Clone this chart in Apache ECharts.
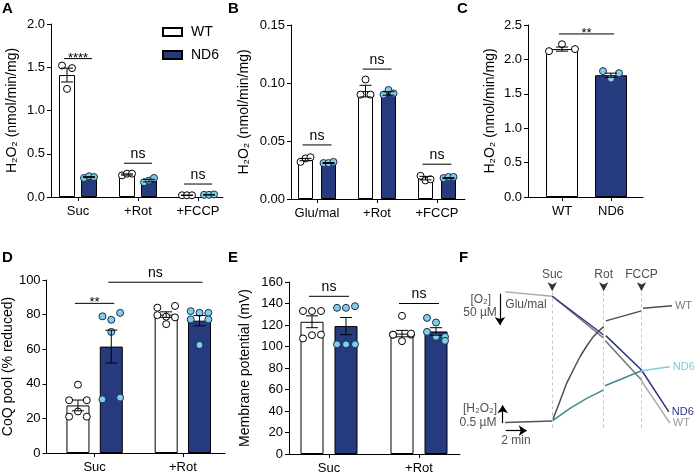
<!DOCTYPE html>
<html><head><meta charset="utf-8">
<script src="https://cdn.jsdelivr.net/npm/echarts@6/dist/echarts.min.js"></script>
<style>html,body{margin:0;padding:0;background:#fff}#c{width:696px;height:475px}</style>
</head><body><div id="c"></div>
<script>
// ---------------- DATA ----------------
// Panel A
const catsA = ['Suc', '+Rot', '+FCCP'];
const wtMeanA = [1.41, 0.26, 0.02];
const wtSemA = [0.08, 0.007, 0.002];
const ndMeanA = [0.23, 0.19, 0.025];
const ndSemA = [0.006, 0.015, 0.002];
const wtPtsA = [[1.52, 1.25, 1.49], [0.25, 0.27, 0.27], [0.02, 0.02, 0.02]];
const ndPtsA = [[0.22, 0.24, 0.23], [0.17, 0.19, 0.22], [0.025, 0.025, 0.03]];
const sigTextA = ['****', 'ns', 'ns'];
const sigYA = [1.6, 0.39, 0.15];
const sigPairsA = [[0, 'WT', 0, 'ND6'], [1, 'WT', 1, 'ND6'], [2, 'WT', 2, 'ND6']];
const yTicksA = [0, 2.0, 0.5];

// Panel B
const catsB = ['Glu/mal', '+Rot', '+FCCP'];
const wtMeanB = [0.034, 0.093, 0.018];
const wtSemB = [0.001, 0.005, 0.0015];
const ndMeanB = [0.031, 0.091, 0.018];
const ndSemB = [0.0004, 0.0015, 0.0004];
const wtPtsB = [[0.032, 0.035, 0.036], [0.090, 0.103, 0.090], [0.020, 0.016, 0.017]];
const ndPtsB = [[0.031, 0.031, 0.032], [0.090, 0.094, 0.091], [0.018, 0.019, 0.019]];
const sigTextB = ['ns', 'ns', 'ns'];
const sigYB = [0.0466, 0.112, 0.030];
const sigPairsB = [[0, 'WT', 0, 'ND6'], [1, 'WT', 1, 'ND6'], [2, 'WT', 2, 'ND6']];
const yTicksB = [0, 0.15, 0.05];

// Panel C
const catsC = ['WT', 'ND6'];
const wtMeanC = [2.15];
const wtSemC = [0.03];
const ndMeanC = [1.77];
const ndSemC = [0.03];
const wtPtsC = [[2.12, 2.22, 2.15]];
const ndPtsC = [[1.83, 1.72, 1.80]];
const sigTextC = ['**'];
const sigYC = [2.37];
const sigPairsC = [[0, 'WT', 0, 'ND6']];
const yTicksC = [0, 2.5, 0.5];

// Panel D
const catsD = ['Suc', '+Rot'];
const wtMeanD = [27.5, 80];
const wtSemD = [3.1, 1.6];
const ndMeanD = [61.5, 76.5];
const ndSemD = [9.5, 3.0];
const wtPtsD = [[30.5, 39.5, 30.5, 21, 24, 21], [79.7, 78.8, 85, 84, 74.5, 78.4]];
const ndPtsD = [[79, 70, 81, 31, 77, 32], [82, 81, 81, 77.2, 62.4, 77.2]];
const sigTextD = ['**', 'ns'];
const sigYD = [86.5, 98.7];
const sigPairsD = [[0, 'WT', 0, 'ND6'], [0, 'ND6', 1, 'ND6']];
const yTicksD = [0, 100, 20];

// Panel E
const catsE = ['Suc', '+Rot'];
const wtMeanE = [123, 112];
const wtSemE = [5.5, 3];
const ndMeanE = [119, 114];
const ndSemE = [8, 3.5];
const wtPtsE = [[133, 133, 133, 107.5, 110.5, 111], [111, 128.5, 111, 111, 105, 112]];
const ndPtsE = [[136, 136, 137.5, 102, 102, 102], [126.6, 122.3, 109, 113.6, 109, 105.3]];
const sigTextE = ['ns', 'ns'];
const sigYE = [146.7, 140];
const sigPairsE = [[0, 'WT', 0, 'ND6'], [1, 'WT', 1, 'ND6']];
const yTicksE = [0, 160, 20];

// Panel F (schematic traces; time in min, O2 in µM, H2O2 in µM)
const fEvents = ['Suc', 'Rot', 'FCCP'];
const fEventTimes = [4.5, 9.4, 13.0];
const o2Base = [[0, 245], [4.5, 238]];
const o2WT = [[4.5, 238], [9.4, 171], [9.47, '-'], [9.55, 167], [13.0, 104]];
const o2WTpost = [[13.0, 104], [13.1, 100], [15.7, 35]];
const o2ND6 = [[4.5, 238], [9.4, 176], [9.5, '-'], [9.6, 175], [13.0, 120], [15.6, 53]];
const h2Base = [[0, 0.63], [4.5, 0.67]];
const h2WT = [[4.5, 0.67], [4.92, 0.98], [5.4, 1.35], [5.87, 1.72], [6.5, 2.09], [7.14, 2.46], [7.78, 2.76], [8.41, 3.02], [9.05, 3.21], [9.4, 3.30], [9.5, '-'], [9.6, 3.46], [13.0, 3.74], [13.07, '-'], [13.15, 3.81], [15.9, 3.88]];
const h2ND6 = [[4.5, 0.67], [6.19, 1.02], [7.78, 1.30], [9.36, 1.53], [9.45, '-'], [9.52, 1.65], [13.0, 2.07]];
const h2ND6post = [[13.0, 2.07], [13.1, 2.12], [15.7, 2.18]];

// ---------------- STYLE / LAYOUT ----------------
const FONT = 'Liberation Sans, Arial, Helvetica, sans-serif';
const NAVY = '#263a7e';
const CYAN = '#80d0e0';
const grids = [], xAxes = [], yAxes = [], series = [];

function bracketRender(texts) {
  return function (params, api) {
    const y = api.value(2);
    const a = api.coord([api.value(0), y]);
    const b = api.coord([api.value(1), y]);
    const t = texts[params.dataIndex];
    const star = t.indexOf('*') >= 0;
    return {
      type: 'group', children: [
        { type: 'line', shape: { x1: a[0] - 3, y1: a[1], x2: b[0] + 3, y2: b[1] }, style: { stroke: '#000', lineWidth: 1 } },
        { type: 'text', x: (a[0] + b[0]) / 2, y: a[1] + (star ? 6 : -2),
          style: { text: t, fill: '#000', fontSize: star ? 13 : 14, fontFamily: FONT, align: 'center', verticalAlign: 'bottom' } }
      ]
    };
  };
}
function errRender(params, api) {
  const x = api.value(0), m = api.value(1), e = api.value(2);
  const t = api.coord([x, m + e]), b = api.coord([x, m - e]);
  const cap = 6;
  const st = { stroke: '#000', lineWidth: 1 };
  return {
    type: 'group', children: [
      { type: 'line', shape: { x1: t[0], y1: t[1], x2: b[0], y2: b[1] }, style: st },
      { type: 'line', shape: { x1: t[0] - cap, y1: t[1], x2: t[0] + cap, y2: t[1] }, style: st },
      { type: 'line', shape: { x1: b[0] - cap, y1: b[1], x2: b[0] + cap, y2: b[1] }, style: st }
    ]
  };
}

function addBarPanel(p) {
  const gi = grids.length;
  grids.push({ left: p.left, top: p.top, width: p.width, height: p.height });
  const u = p.unit;
  const xMin = 1 - (p.firstTick - p.left) / u;
  const xMax = xMin + p.width / u;
  const cats = p.cats;
  const ticks = cats.map((c, i) => i + 1);
  xAxes.push({
    gridIndex: gi, type: 'value', min: xMin, max: xMax,
    axisLine: { show: true, onZero: false, lineStyle: { color: '#000', width: 1 } },
    axisTick: { show: true, customValues: ticks, length: 4, lineStyle: { color: '#000' } },
    axisLabel: { show: true, customValues: ticks, formatter: v => cats[Math.round(v) - 1] || '', color: '#000', fontSize: 13, fontFamily: FONT, margin: 8 },
    splitLine: { show: false }
  });
  yAxes.push({
    gridIndex: gi, type: 'value', min: p.yTicks[0], max: p.yTicks[1], interval: p.yTicks[2],
    name: p.yName, nameLocation: 'middle', nameGap: p.nameGap,
    nameTextStyle: { color: '#000', fontSize: 14, fontFamily: FONT },
    axisLine: { show: true, lineStyle: { color: '#000', width: 1 } },
    axisTick: { show: true, length: 4, lineStyle: { color: '#000' } },
    axisLabel: { color: '#000', fontSize: 13, fontFamily: FONT, margin: 6, formatter: v => v.toFixed(p.dec) },
    splitLine: { show: false }
  });
  const pos = {
    WT: i => i + 1 - p.off / u + (p.wtShift || 0),
    ND6: i => i + 1 + p.off / u + (p.ndShift || 0)
  };
  const groups = [
    { key: 'WT', means: p.wtMean, sems: p.wtSem, pts: p.wtPts, fill: '#fff', ptFill: '#fff', ptBorder: '#000', spread: p.spread },
    { key: 'ND6', means: p.ndMean, sems: p.ndSem, pts: p.ndPts, fill: NAVY, ptFill: CYAN, ptBorder: '#1d2c5c', spread: p.ndSpread || p.spread }
  ];
  const pattern = [-1, 0, 1];
  groups.forEach(g => {
    series.push({
      type: 'bar', name: gi === 0 ? g.key : g.key + ' ' + gi, xAxisIndex: gi, yAxisIndex: gi,
      barWidth: p.bw, barGap: '-100%',
      data: g.means.map((m, j) => [pos[g.key](j), m]),
      itemStyle: { color: g.fill, borderColor: '#000', borderWidth: 1 }, z: 2, silent: true
    });
  });
  groups.forEach(g => {
    const pd = [];
    g.pts.forEach((arr, j) => arr.forEach((v, k) => pd.push([pos[g.key](j) + pattern[k % 3] * g.spread / u, v])));
    series.push({
      type: 'scatter', name: g.key + ' pts ' + gi, xAxisIndex: gi, yAxisIndex: gi, data: pd,
      symbol: 'circle', symbolSize: 7, clip: false,
      itemStyle: { color: g.ptFill, borderColor: g.ptBorder, borderWidth: 1, opacity: 1 }, z: 3, silent: true
    });
  });
  groups.forEach(g => {
    series.push({
      type: 'custom', name: g.key + ' err ' + gi, xAxisIndex: gi, yAxisIndex: gi,
      data: g.means.map((m, j) => [pos[g.key](j), m, g.sems[j]]),
      renderItem: errRender, z: 4, silent: true
    });
  });
  series.push({
    type: 'custom', name: 'sig ' + gi, xAxisIndex: gi, yAxisIndex: gi,
    data: p.sigPairs.map((q, j) => [pos[q[1]](q[0]), pos[q[3]](q[2]), p.sigY[j]]),
    renderItem: bracketRender(p.sigText), z: 5, silent: true
  });
}

const H2O2 = 'H\u2082O\u2082 (nmol/min/mg)';
addBarPanel({ left: 51, top: 24, width: 172, height: 173, firstTick: 78, unit: 60, cats: catsA, yTicks: yTicksA, dec: 1,
  yName: H2O2, nameGap: 32, off: 11, bw: 16, spread: 5,
  wtMean: wtMeanA, wtSem: wtSemA, ndMean: ndMeanA, ndSem: ndSemA, wtPts: wtPtsA, ndPts: ndPtsA,
  sigText: sigTextA, sigY: sigYA, sigPairs: sigPairsA });
addBarPanel({ left: 291, top: 25, width: 174, height: 174, firstTick: 317, unit: 60, cats: catsB, yTicks: yTicksB, dec: 2,
  yName: H2O2, nameGap: 40, off: 11.5, bw: 15, spread: 5,
  wtMean: wtMeanB, wtSem: wtSemB, ndMean: ndMeanB, ndSem: ndSemB, wtPts: wtPtsB, ndPts: ndPtsB,
  sigText: sigTextB, sigY: sigYB, sigPairs: sigPairsB });
addBarPanel({ left: 528, top: 25, width: 115, height: 172, firstTick: 562, unit: 49, cats: catsC, yTicks: yTicksC, dec: 1,
  yName: H2O2, nameGap: 31, off: 0, bw: 32, spread: 13, ndSpread: 8, ndShift: 1,
  wtMean: wtMeanC, wtSem: wtSemC, ndMean: ndMeanC, ndSem: ndSemC, wtPts: wtPtsC, ndPts: ndPtsC,
  sigText: sigTextC, sigY: sigYC, sigPairs: sigPairsC });
addBarPanel({ left: 43, top: 280, width: 182, height: 173, firstTick: 92, unit: 90, cats: catsD, yTicks: yTicksD, dec: 0,
  yName: 'CoQ pool (% reduced)', nameGap: 27, off: 17, bw: 23, spread: 9,
  wtMean: wtMeanD, wtSem: wtSemD, ndMean: ndMeanD, ndSem: ndSemD, wtPts: wtPtsD, ndPts: ndPtsD,
  sigText: sigTextD, sigY: sigYD, sigPairs: sigPairsD });
addBarPanel({ left: 289, top: 282, width: 171, height: 172, firstTick: 329, unit: 90, cats: catsE, yTicks: yTicksE, dec: 0,
  yName: 'Membrane potential (mV)', nameGap: 37, off: 17, bw: 23, spread: 9,
  wtMean: wtMeanE, wtSem: wtSemE, ndMean: ndMeanE, ndSem: ndSemE, wtPts: wtPtsE, ndPts: ndPtsE,
  sigText: sigTextE, sigY: sigYE, sigPairs: sigPairsE });

// ---- Panel F ----
(function () {
  const gi = grids.length;
  grids.push({ left: 463, top: 280, width: 210, height: 165 });
  const xi = xAxes.length;
  xAxes.push({ gridIndex: gi, type: 'value', min: -4, max: 16, show: false });
  const yO = yAxes.length;
  yAxes.push({ gridIndex: gi, type: 'value', min: 0, max: 264, show: false });
  const yH = yAxes.length;
  yAxes.push({ gridIndex: gi, type: 'value', min: 0, max: 4.6, show: false });
  const line = (name, data, color, yi, lbl, lblColor) => ({
    type: 'line', name, xAxisIndex: xi, yAxisIndex: yi, data, symbol: 'none', showSymbol: false,
    connectNulls: false, silent: true, z: 3, lineStyle: { color, width: 1.5 },
    endLabel: lbl ? { show: true, formatter: lbl, color: lblColor || color, fontSize: 11, fontFamily: FONT, distance: 3 } : { show: false }
  });
  series.push(line('o2Base', o2Base, '#a9a9a9', yO));
  series.push(line('o2WT', o2WT, '#7a7a7a', yO));
  series.push(line('o2WTpost', o2WTpost, '#ababab', yO, 'WT', '#9a9a9a'));
  series.push(line('o2ND6', o2ND6, '#2a3582', yO, 'ND6', '#2a3a8e'));
  series.push(line('h2Base', h2Base, '#555', yH));
  series.push(line('h2WT', h2WT, '#4d4d4d', yH, 'WT', '#7a7a7a'));
  series.push(line('h2ND6', h2ND6, '#3f8a92', yH));
  series.push(line('h2ND6post', h2ND6post, '#7ccfdf', yH, 'ND6', '#74cde0'));
  // event markers
  series.push({
    type: 'scatter', name: 'events', xAxisIndex: xi, yAxisIndex: yO,
    data: fEventTimes.map((t, i) => ({ value: [t, 246], name: fEvents[i] })),
    symbol: 'arrow', symbolRotate: 180, symbolSize: [7, 9], itemStyle: { color: '#000' }, silent: true, z: 5,
    label: { show: true, position: 'top', distance: 2, formatter: '{b}', color: '#222', fontSize: 12, fontFamily: FONT },
    markLine: {
      silent: true, symbol: ['none', 'none'], label: { show: false },
      lineStyle: { type: [3, 3], color: '#b8c2d8', width: 1 },
      data: fEventTimes.map(t => [{ coord: [t, 244] }, { coord: [t, 27] }])
    }
  });
  // O2 annotations
  series.push({
    type: 'scatter', name: 'o2text', xAxisIndex: xi, yAxisIndex: yO,
    data: [{ value: [-2.31, 232], name: '[O\u2082]' }, { value: [-2.38, 211], name: '50 \u00b5M' }, { value: [2.0, 224], name: 'Glu/mal' }],
    symbol: 'circle', symbolSize: 1, itemStyle: { color: 'rgba(0,0,0,0)' }, silent: true, z: 5,
    label: { show: true, position: 'inside', formatter: '{b}', color: '#222', fontSize: 12, fontFamily: FONT },
    markLine: {
      silent: true, symbol: ['none', 'arrow'], symbolSize: 8, label: { show: false },
      lineStyle: { type: 'solid', color: '#000', width: 1.2 },
      data: [[{ coord: [-0.48, 242] }, { coord: [-0.48, 192] }]]
    }
  });
  series.push({
    type: 'scatter', name: 'h2text', xAxisIndex: xi, yAxisIndex: yH,
    data: [{ value: [-2.38, 1.0], name: '[H\u2082O\u2082]' }, { value: [-2.57, 0.62], name: '0.5 \u00b5M' }, { value: [1.05, 0.12], name: '2 min' }],
    symbol: 'circle', symbolSize: 1, itemStyle: { color: 'rgba(0,0,0,0)' }, silent: true, z: 5,
    label: { show: true, position: 'inside', formatter: '{b}', color: '#222', fontSize: 12, fontFamily: FONT },
    markLine: {
      silent: true, symbol: ['none', 'arrow'], symbolSize: 8, label: { show: false },
      lineStyle: { type: 'solid', color: '#000', width: 1.2 },
      data: [[{ coord: [-0.22, 0.61] }, { coord: [-0.22, 1.11] }], [{ coord: [0.07, 0.40] }, { coord: [2.07, 0.40] }]]
    }
  });
})();

const letters = [['A', 2, 1], ['B', 228, 1], ['C', 457, 1], ['D', 2, 250], ['E', 228, 250], ['F', 459, 250]];
const option = {
  animation: false,
  backgroundColor: '#fff',
  textStyle: { fontFamily: FONT },
  title: letters.map(l => ({ text: l[0], left: l[1], top: l[2], padding: 0, textStyle: { fontSize: 15, fontWeight: 'bold', color: '#000', fontFamily: FONT } })),
  legend: {
    orient: 'vertical', left: 157, top: 20, itemWidth: 19, itemHeight: 8, itemGap: 9,
    icon: 'rect', data: ['WT', 'ND6'], selectedMode: false,
    textStyle: { fontSize: 14, color: '#000', fontFamily: FONT, padding: [0, 0, 0, 4] }
  },
  grid: grids, xAxis: xAxes, yAxis: yAxes, series: series
};
const chart = echarts.init(document.getElementById('c'), null, { renderer: 'canvas' });
chart.setOption(option);
</script></body></html>
